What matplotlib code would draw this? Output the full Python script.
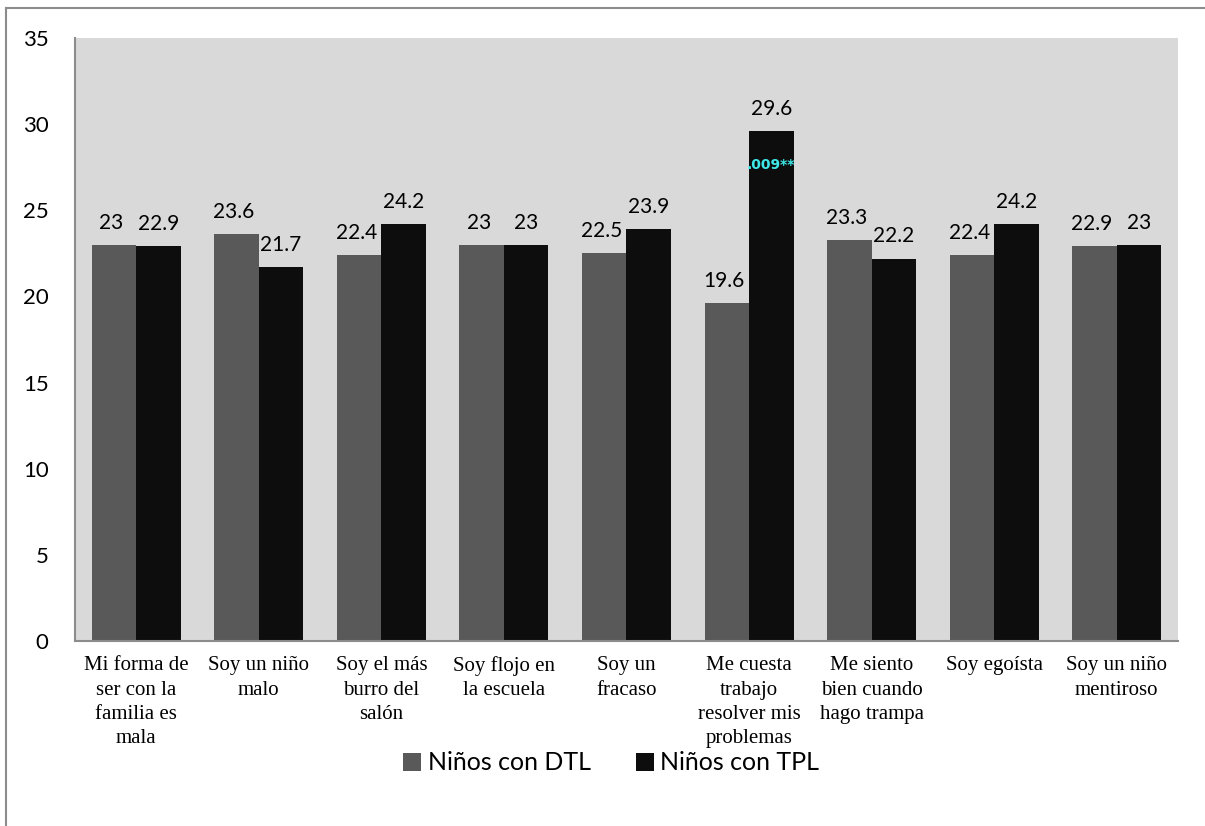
import matplotlib.pyplot as plt
from matplotlib.lines import Line2D
import numpy as np

categories = [
    "Mi forma de\nser con la\nfamilia es\nmala",
    "Soy un niño\nmalo",
    "Soy el más\nburro del\nsalón",
    "Soy flojo en\nla escuela",
    "Soy un\nfracaso",
    "Me cuesta\ntrabajo\nresolver mis\nproblemas",
    "Me siento\nbien cuando\nhago trampa",
    "Soy egoísta",
    "Soy un niño\nmentiroso",
]
dtl = [23, 23.6, 22.4, 23, 22.5, 19.6, 23.3, 22.4, 22.9]
tpl = [22.9, 21.7, 24.2, 23, 23.9, 29.6, 22.2, 24.2, 23]
series_names = ["Niños con DTL", "Niños con TPL"]
yticks = [0, 5, 10, 15, 20, 25, 30, 35]
note_text = ".009**"
note_index = 5
note_value = 27.6

num_font = "Lato"
cat_font = "Liberation Serif"

fig = plt.figure(figsize=(12.05, 8.26), dpi=100)
ax = fig.add_axes([0.0622, 0.224, 0.9154, 0.730])

# outer frame: only left and top edges fall inside the picture
x0, y0 = 6 / 1205, 1 - 8 / 826
fig.add_artist(Line2D([x0, x0], [0, y0], transform=fig.transFigure,
                      color="#8c8c8c", linewidth=1.5))
fig.add_artist(Line2D([x0, 1], [y0, y0], transform=fig.transFigure,
                      color="#8c8c8c", linewidth=1.5))

ax.set_facecolor("#d9d9d9")
x = np.arange(len(categories))
w = 0.363
b1 = ax.bar(x - w / 2, dtl, w, color="#595959", label=series_names[0])
b2 = ax.bar(x + w / 2, tpl, w, color="#0d0d0d", label=series_names[1])

for rect, v in zip(b1, dtl):
    ax.text(rect.get_x() + rect.get_width() / 2 - 0.02, v + 0.7, f"{v:g}",
            ha="center", va="bottom", fontsize=15, family=num_font)
for rect, v in zip(b2, tpl):
    ax.text(rect.get_x() + rect.get_width() / 2, v + 0.7, f"{v:g}",
            ha="center", va="bottom", fontsize=15, family=num_font)

ax.text(x[note_index] + w / 2, note_value, note_text, ha="center", va="center",
        color="#3fe8e8", fontsize=10, fontweight="bold",
        family="DejaVu Sans Condensed")

ax.set_xlim(-0.5, len(categories) - 0.5)
ax.set_ylim(0, 35)
ax.set_yticks(yticks)
ax.set_yticklabels([str(t) for t in yticks], fontsize=16, family=num_font)
ax.set_xticks(x)
ax.set_xticklabels(categories, fontsize=15, family=cat_font, va="top")
for lbl in ax.get_xticklabels():
    lbl.set_linespacing(1.38)
ax.tick_params(axis="both", length=0)
ax.tick_params(axis="y", pad=19)
ax.tick_params(axis="x", pad=11)

for s in ["top", "right"]:
    ax.spines[s].set_visible(False)
for s in ["left", "bottom"]:
    ax.spines[s].set_color("#8c8c8c")
    ax.spines[s].set_linewidth(1.5)

fig.legend(handles=[b1, b2], labels=series_names, loc="center",
           bbox_to_anchor=(611 / 1205, 1 - 763 / 826), ncol=2, frameon=False,
           prop={"family": "Lato", "size": 18}, handlelength=0.75, handleheight=0.75,
           handletextpad=0.25, columnspacing=1.8)

fig.savefig("out.png", dpi=100)
